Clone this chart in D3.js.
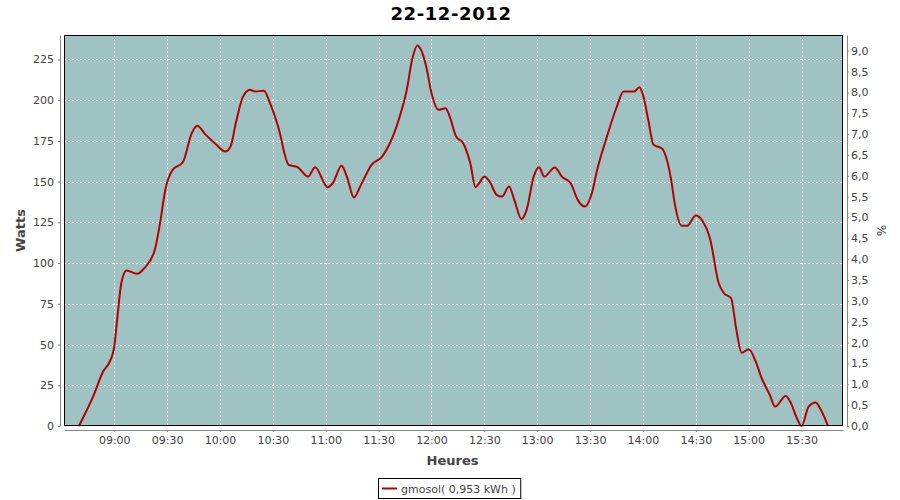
<!DOCTYPE html>
<html>
<head>
<meta charset="utf-8">
<script src="https://cdn.jsdelivr.net/npm/d3@7"></script>
<style>
  html, body { margin: 0; padding: 0; background: #ffffff; }
  svg { display: block; }
  text { font-family: "DejaVu Sans", sans-serif; }
</style>
</head>
<body>
<svg id="chart" width="900" height="500"></svg>
<script>
// ---- Data ----
const title = "22-12-2012";
const seriesName = "gmosol( 0,953 kWh )";
const xLabel = "Heures";
const yLabel = "Watts";
const y2Label = "%";

const times = [
  "08:40","08:48","08:54","08:57","09:00","09:02","09:04","09:07","09:13","09:17",
  "09:23","09:26","09:29","09:33","09:39","09:44","09:47","09:52","09:58","10:03",
  "10:06","10:09","10:13","10:17","10:20","10:25","10:28","10:33","10:39","10:44",
  "10:50","10:54","11:01","11:04","11:09","11:12","11:16","11:20","11:26","11:32",
  "11:36","11:42","11:46","11:49","11:52","11:54","11:57","12:00","12:04","12:08",
  "12:10","12:14","12:18","12:22","12:25","12:27","12:30","12:33","12:37","12:40",
  "12:44","12:47","12:51","12:54","12:58","13:01","13:04","13:10","13:14","13:19",
  "13:23","13:27","13:31","13:34","13:39","13:45","13:49","13:55","13:58","14:00",
  "14:03","14:06","14:11","14:13","14:16","14:18","14:22","14:25","14:30","14:34",
  "14:38","14:43","14:46","14:50","14:53","14:56","15:00","15:04","15:07","15:12",
  "15:15","15:21","15:24","15:27","15:30","15:34","15:38","15:41","15:45"
];
const watts = [
  0,18,34,38.5,48.7,69,87.6,95.4,93.4,96.8,
  108,124.5,145,157,162,179.8,184.3,178.7,172.6,168.5,
  171.6,186,202,206.4,205.3,205.8,199.2,183.8,160.3,158.9,
  153.1,158.9,146.6,149,159.7,153.1,140.2,148,160.3,165.4,
  172.6,190,206.4,224.8,233.6,231,220.7,204.4,194.1,195.1,
  191,177.7,173.6,161.4,146.6,149,153.1,150,141.9,140.8,
  147,138.8,127.1,132.7,153.1,158.9,153.1,158.7,153.1,149,
  138.8,134.7,142.9,157.2,175.7,195.5,205.3,205.3,208,203.3,
  188,172.6,170.1,165.4,151.1,136.8,122.9,122.9,129.2,125.5,
  115.3,87.6,81.5,78.4,59,45,47.1,39.5,30.3,19,
  11.9,18.4,13.9,5.7,0,11.9,14.5,9.8,0
];
const wattTicks = [0,25,50,75,100,125,150,175,200,225];
const pctTicks = [0,0.5,1,1.5,2,2.5,3,3.5,4,4.5,5,5.5,6,6.5,7,7.5,8,8.5,9];
const wattMax = 240;
const pctMax = 9.375;

// ---- Layout ----
const W = 900, H = 500;
const m = { left: 64, right: 57, top: 35, bottom: 74 };
const pw = W - m.left - m.right, ph = H - m.top - m.bottom;
const axisGap = 4;
const plotBg = "#9ec3c2";
const lineColor = "#b40000";
const textColor = "#444444";
const axisColor = "#888888";

const parse = d3.timeParse("%H:%M");
const data = times.map((t, i) => ({ t: parse(t), w: watts[i] }));

const ext = d3.extent(data, d => d.t);
const pad = (ext[1] - ext[0]) * 0.02;
const x = d3.scaleTime().domain([new Date(+ext[0] - pad), new Date(+ext[1] + pad)]).range([0, pw]);
const y = d3.scaleLinear().domain([0, wattMax]).range([ph, 0]);
const y2 = d3.scaleLinear().domain([0, pctMax]).range([ph, 0]);

const fr = d3.formatLocale({ decimal: ",", thousands: ".", grouping: [3], currency: ["", ""] });
const fmtPct = fr.format(".1f");

const svg = d3.select("#chart");
svg.append("rect").attr("width", W).attr("height", H).attr("fill", "#ffffff");

const g = svg.append("g").attr("transform", `translate(${m.left},${m.top})`);

// plot background
g.append("rect").attr("width", pw).attr("height", ph).attr("fill", plotBg);

// grid
const xTicks = x.ticks(d3.timeMinute.every(30));
g.append("g").selectAll("line").data(xTicks).join("line")
  .attr("x1", d => Math.round(x(d)) + 0.5).attr("x2", d => Math.round(x(d)) + 0.5)
  .attr("y1", 0).attr("y2", ph)
  .attr("stroke", "#ffffff").attr("stroke-width", 1).attr("stroke-dasharray", "2,2");
g.append("g").selectAll("line").data(wattTicks.filter(v => v > 0)).join("line")
  .attr("x1", 0).attr("x2", pw)
  .attr("y1", d => Math.round(y(d)) + 0.5).attr("y2", d => Math.round(y(d)) + 0.5)
  .attr("stroke", "#ffffff").attr("stroke-width", 1).attr("stroke-dasharray", "2,2");

// line
const line = d3.line().x(d => x(d.t)).y(d => y(d.w)).curve(d3.curveMonotoneX);
g.append("path").datum(data).attr("d", line)
  .attr("fill", "none").attr("stroke", lineColor).attr("stroke-width", 2)
  .attr("stroke-linejoin", "round");

// plot border
g.append("rect").attr("x", 0.5).attr("y", 0.5).attr("width", pw - 1).attr("height", ph - 1)
  .attr("fill", "none").attr("stroke", "#000000").attr("stroke-width", 1);

// axes
function styleAxis(sel) {
  sel.select(".domain").attr("stroke", axisColor);
  sel.selectAll(".tick line").attr("stroke", axisColor);
  sel.selectAll(".tick text").attr("fill", textColor)
    .style("font-family", "DejaVu Sans, sans-serif").style("font-size", "11px");
}

const xAxis = g.append("g").attr("transform", `translate(0,${ph + axisGap})`)
  .call(d3.axisBottom(x).tickValues(xTicks).tickFormat(d3.timeFormat("%H:%M")).tickSizeInner(2).tickSizeOuter(0).tickPadding(4));
styleAxis(xAxis);

const yAxis = g.append("g").attr("transform", `translate(${-axisGap},0)`)
  .call(d3.axisLeft(y).tickValues(wattTicks).tickSizeInner(2).tickSizeOuter(0).tickPadding(4));
styleAxis(yAxis);

const y2Axis = g.append("g").attr("transform", `translate(${pw + axisGap},0)`)
  .call(d3.axisRight(y2).tickValues(pctTicks).tickFormat(fmtPct).tickSizeInner(2).tickSizeOuter(0).tickPadding(2));
styleAxis(y2Axis);

// title
svg.append("text").attr("x", 451).attr("y", 20).attr("text-anchor", "middle")
  .attr("font-size", "18px").attr("font-weight", "bold").attr("fill", "#000000")
  .attr("letter-spacing", "0.6px")
  .text(title);

// axis labels
svg.append("text").attr("x", m.left + pw / 2 - 1).attr("y", 465).attr("text-anchor", "middle")
  .attr("font-size", "13px").attr("font-weight", "bold").attr("fill", textColor)
  .text(xLabel);
svg.append("text").attr("transform", `translate(25,${m.top + ph / 2}) rotate(-90)`)
  .attr("text-anchor", "middle")
  .attr("font-size", "13px").attr("font-weight", "bold").attr("fill", textColor)
  .text(yLabel);
svg.append("text").attr("transform", `translate(877,${m.top + ph / 2}) rotate(90)`)
  .attr("text-anchor", "middle")
  .attr("font-size", "12px").attr("fill", textColor)
  .text(y2Label);

// legend
const lg = svg.append("g");
const lt = lg.append("text").attr("x", 401).attr("y", 493)
  .attr("font-size", "11px").attr("fill", textColor).text(seriesName);
const tw = lt.node().getComputedTextLength();
lg.insert("rect", "text").attr("x", 378.5).attr("y", 478.5).attr("width", 401 + tw + 5 - 378.5).attr("height", 20)
  .attr("fill", "#ffffff").attr("stroke", "#000000").attr("stroke-width", 1);
lg.append("line").attr("x1", 382).attr("x2", 397).attr("y1", 488.5).attr("y2", 488.5)
  .attr("stroke", lineColor).attr("stroke-width", 2);
</script>
</body>
</html>
